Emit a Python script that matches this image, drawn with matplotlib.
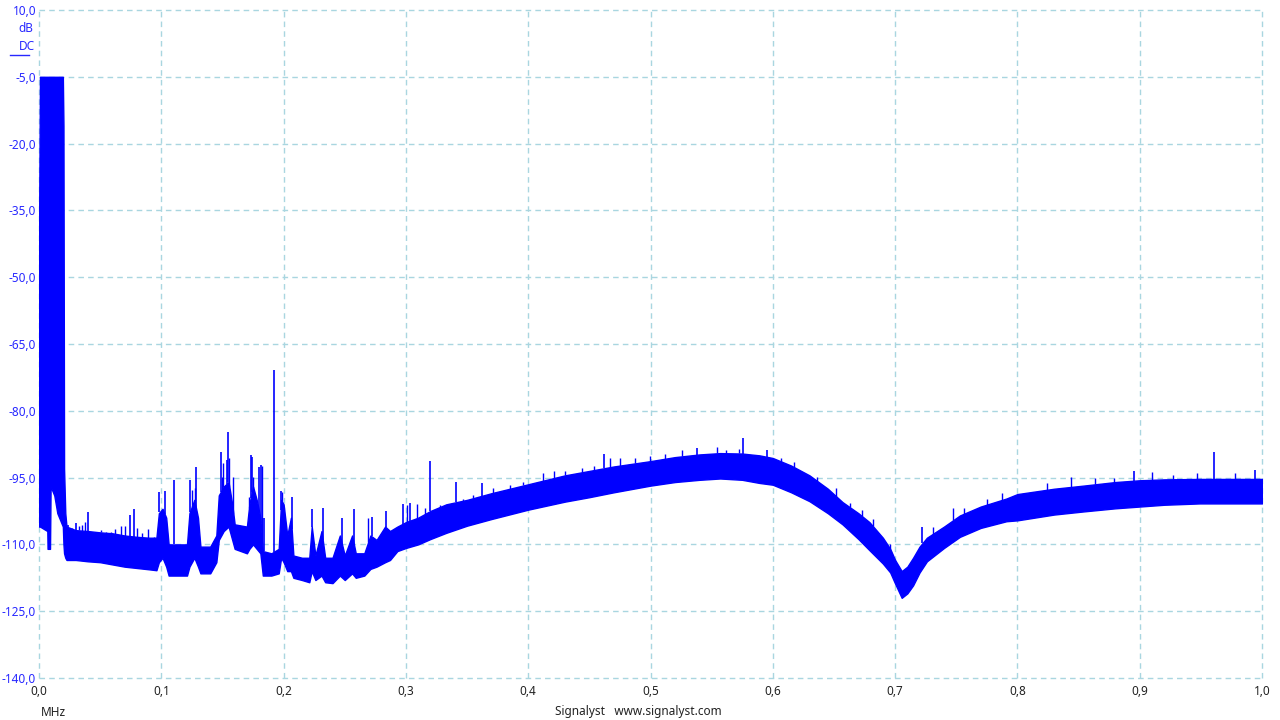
import numpy as np
import matplotlib.pyplot as plt
from matplotlib.lines import Line2D

# band envelope (MHz, dB)
freq = [0.0, 0.0008, 0.0068, 0.0070, 0.0090, 0.0095, 0.0125, 0.0150, 0.0195, 0.0200, 0.0205, 0.0215, 0.0225,
        0.03, 0.04, 0.05, 0.06, 0.07, 0.08, 0.09, 0.096,
        0.098, 0.101, 0.104, 0.106, 0.115, 0.121, 0.123, 0.127, 0.130, 0.132, 0.140, 0.145,
        0.147, 0.151, 0.155, 0.158, 0.160, 0.170, 0.172, 0.175, 0.178, 0.181, 0.183, 0.190, 0.196,
        0.198, 0.200, 0.203, 0.206, 0.208, 0.215, 0.221, 0.223, 0.226, 0.231, 0.234, 0.240, 0.246,
        0.250, 0.256, 0.259, 0.266, 0.271, 0.276, 0.283, 0.287, 0.293, 0.300,
        0.31, 0.32, 0.333, 0.35, 0.37, 0.40, 0.43, 0.45, 0.47, 0.50, 0.52, 0.54, 0.557, 0.575,
        0.589, 0.60, 0.615, 0.630, 0.645, 0.657, 0.670, 0.679, 0.690, 0.696, 0.700, 0.7054, 0.710,
        0.7147, 0.72, 0.726, 0.74, 0.753, 0.77, 0.791, 0.80, 0.83, 0.854, 0.88, 0.90, 0.92, 0.949,
        0.97, 1.0]
upper = [-42, -5, -5, -5, -5, -5, -5, -5, -5, -16, -93, -103, -106,
         -106.8, -107, -107.3, -107.5, -108, -108.3, -108.5, -108.5,
         -103, -102, -104, -110, -110, -110, -103, -100, -104, -110.5, -110.5, -108,
         -99, -97, -96, -101, -105.5, -106, -101, -97, -100, -104, -111.5, -112, -111,
         -100, -101, -108, -104, -112.5, -113, -113, -106, -112.5, -107, -113, -113, -108,
         -112.5, -108, -112, -112, -108, -109, -106, -107, -106, -105,
         -104, -102.5, -101, -100, -98.5, -96.5, -94.5, -93.5, -92.5, -91.3, -90.4, -89.8, -89.5, -89.6,
         -90, -90.6, -92.3, -94.5, -97.5, -100.5, -103, -105, -108.5, -111, -113.5, -116, -115,
         -113, -110.5, -108.5, -106, -103.5, -101.5, -99.7, -98.7, -97.5, -96.8, -96, -95.6, -95.4, -95.3,
         -95.3, -95.3]
lower = [-106, -106, -107, -111, -111, -97, -99, -103, -106, -110, -112, -113, -113.5,
         -113.5, -113.8, -114, -114.5, -115, -115.3, -115.6, -115.8,
         -114, -113, -115, -117, -117, -117, -115, -113, -115, -116.5, -116.5, -114,
         -109, -107, -106, -109, -111, -112, -111, -110, -111, -112, -117, -117, -116.5,
         -113, -114, -116, -116, -117.5, -118, -118.5, -116, -118, -117, -118.5, -118.7, -117,
         -118, -116.5, -117.5, -117, -115.5, -115, -114, -113.5, -111.5, -110.8,
         -110, -108.8, -107.4, -105.8, -104.3, -102.2, -100.4, -99.4, -98.3, -96.8, -96, -95.5, -95.2, -95.5,
         -96.2, -96.6, -98.3, -100.3, -103, -105.5, -108.8, -111.3, -114.3, -116.3, -118.8, -122, -121,
         -119.2, -116.3, -113.8, -110.8, -108.3, -106.3, -104.8, -104.6, -103.3, -102.6, -101.9, -101.5, -101.1, -100.8,
         -100.8, -100.8]

# isolated spikes (MHz, peak dB)
spike_f = [0.024, 0.0305, 0.040, 0.074, 0.078, 0.0985, 0.1027, 0.1104, 0.1235, 0.1287,
           0.1485, 0.1535, 0.1548, 0.173, 0.174, 0.180, 0.1813, 0.184, 0.1924, 0.1976,
           0.2066, 0.223, 0.232, 0.2477, 0.2576, 0.272, 0.2837, 0.2976, 0.303, 0.3197,
           0.341, 0.362, 0.462, 0.538, 0.5756, 0.595, 0.7222, 0.895, 0.961, 0.994]
spike_db = [-105.7, -105.2, -102.7, -103.3, -102, -98.2, -98, -95.5, -95.5, -92.6,
            -89.2, -91.1, -84.8, -90, -90.3, -92.6, -92.2, -104, -70.8, -98,
            -99.3, -102, -101.8, -104, -102, -103.8, -102.5, -101, -100.8, -91.3,
            -96, -96.3, -89.7, -88.4, -86.1, -88.8, -106, -93.5, -89.3, -93.3]

# smaller spikes along the band
minor_f = [0.0273, 0.0327, 0.0354, 0.0376, 0.0436, 0.0504, 0.0545, 0.0586, 0.0621, 0.0668,
           0.0703, 0.0804, 0.0845, 0.0894, 0.094, 0.1248, 0.1275, 0.1494, 0.1507, 0.1556,
           0.159, 0.1717, 0.1747, 0.1823, 0.1984, 0.2693, 0.3006, 0.309, 0.316, 0.328,
           0.347, 0.355, 0.3715, 0.385, 0.396, 0.412, 0.421, 0.430, 0.444, 0.454,
           0.467, 0.475, 0.487, 0.4996, 0.512, 0.526, 0.545, 0.554, 0.562, 0.572,
           0.607, 0.617, 0.636, 0.652, 0.663, 0.673, 0.682, 0.696, 0.731, 0.7476,
           0.756, 0.775, 0.787, 0.824, 0.844, 0.8635, 0.879, 0.91, 0.9275, 0.9466, 0.978]
minor_db = [-106.4, -105.9, -105.7, -104.9, -108.3, -106.8, -107.2, -107.2, -106.6, -105.9,
            -105.9, -106.4, -107.5, -106.6, -108.3, -97.8, -97.3, -94.8, -91.8, -90.5,
            -94.8, -99.3, -94.8, -92.5, -98.3, -104, -101.2, -101, -101.9, -101.2,
            -99.7, -98.9, -97.4, -96.6, -96, -94, -93.5, -93.6, -92.9, -92.5,
            -90.7, -90.7, -90.6, -90.1, -89.8, -88.7, -89.6, -88.1, -88.8, -88.5,
            -90.7, -91.4, -94.8, -97.4, -100.8, -102.3, -104.4, -109.8, -106, -101.9,
            -101.9, -99.7, -98.4, -96.3, -94.9, -95.1, -95.1, -93.8, -94.4, -94, -93.9]

xticks = np.round(np.arange(0, 1.01, 0.1), 1)
xlabels = ["0,0", "0,1", "0,2", "0,3", "0,4", "0,5", "0,6", "0,7", "0,8", "0,9", "1,0"]
yticks = [10, -5, -20, -35, -50, -65, -80, -95, -110, -125, -140]
ylabels = ["10,0", "-5,0", "-20,0", "-35,0", "-50,0", "-65,0", "-80,0", "-95,0", "-110,0", "-125,0", "-140,0"]

plt.rcParams['font.family'] = ['Noto Sans', 'DejaVu Sans']

fig = plt.figure(figsize=(12.8, 7.2), dpi=100)
W, H = 1280, 720
ax = fig.add_axes([39 / W, 42 / H, 1223 / W, 668 / H])

blue = '#0000ff'
ax.fill_between(freq, lower, upper, color=blue, lw=1.0, zorder=3)
base = np.interp(spike_f, freq, upper)
ax.vlines(spike_f, base, spike_db, color=blue, lw=1.2, zorder=3)
mbase = np.interp(minor_f, freq, upper)
ax.vlines(minor_f, mbase, minor_db, color=blue, lw=1.0, zorder=3)

ax.set_xlim(0, 1)
ax.set_ylim(-140, 10)
ax.set_xticks(xticks, xlabels)
ax.set_yticks(yticks, ylabels)
ax.tick_params(length=0, labelsize=8.5)
ax.tick_params(axis='y', pad=2, labelcolor='#2828ff')
ax.tick_params(axis='x', pad=5, labelcolor='#222222')
for s in ax.spines.values():
    s.set_visible(False)
ax.grid(True, color='#a9d6e0', linestyle=(0, (4, 3)), linewidth=1.0, zorder=0)
ax.set_axisbelow(True)
for gl in ax.get_xgridlines() + ax.get_ygridlines():
    gl.set_clip_on(False)

fig.text(33 / W, 1 - 29 / H, "dB", ha='right', va='center', color='#2828ff', fontsize=8.5)
fig.text(35 / W, 1 - 46 / H, "DC", ha='right', va='center', color='#2828ff', fontsize=8.5)
fig.add_artist(Line2D([10 / W, 29 / W], [1 - 55 / H, 1 - 55 / H], color='#2828ff', lw=1))
fig.text(41 / W, 1 - 712 / H, "MHz", ha='left', va='center', color='#222222', fontsize=8.5)
fig.text(638 / W, 1 - 712 / H, "Signalyst   www.signalyst.com", ha='center', va='center',
         color='#222222', fontsize=8.5)

fig.savefig("out.png", dpi=100)
